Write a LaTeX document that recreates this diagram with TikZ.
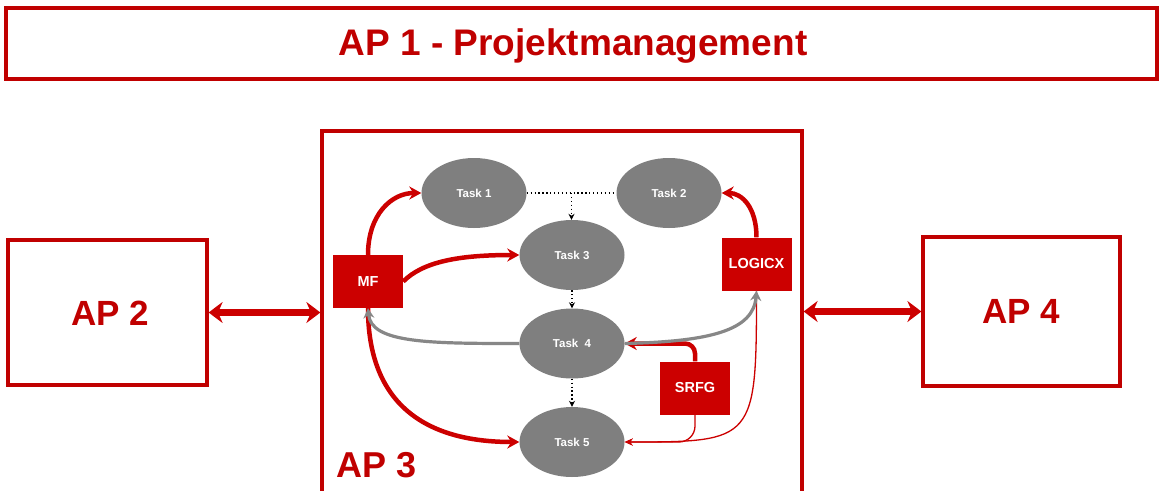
\documentclass[tikz,border=0pt]{standalone}
\usepackage{fontspec}
\setmainfont{Liberation Sans}
\usetikzlibrary{shapes.geometric,arrows.meta}
\definecolor{apred}{RGB}{192,0,0}
\definecolor{boxred}{RGB}{204,0,0}
\definecolor{taskgray}{RGB}{127,127,127}
\definecolor{linkgray}{RGB}{135,135,135}

\begin{document}
\begin{tikzpicture}[x=1pt,y=-1pt,
  frame/.style={draw=apred,line width=3.2pt,rectangle,inner sep=0pt},
  task/.style={ellipse,fill=taskgray,minimum width=105pt,minimum height=70pt,
    inner sep=0pt,text=white,font=\fontsize{11.5}{13}\selectfont\bfseries},
  tool/.style={rectangle,fill=boxred,minimum width=70pt,minimum height=53pt,
    inner sep=0pt,text=white,font=\fontsize{14.5}{17}\selectfont\bfseries},
  biglabel/.style={text=apred,inner sep=0pt,font=\fontsize{35}{40}\selectfont\bfseries},
  link/.style={draw=boxred,line width=4.5pt,-{Stealth[length=12pt,width=13pt]}},
  thinlink/.style={draw=boxred,line width=1.3pt,-{Stealth[length=8pt,width=7pt]}},
  greylink/.style={draw=linkgray,line width=3.2pt,-{Stealth[length=10pt,width=11pt]}},
  flow/.style={draw=black,line width=1.3pt,dash pattern=on 1.3pt off 2.6pt},
  bus/.style={draw=boxred,line width=7pt,
    {Stealth[length=14pt,width=21pt]}-{Stealth[length=14pt,width=21pt]}}
]
\useasboundingbox (0,0) rectangle (1159,490);
\fill[white] (0,0) rectangle (1159,490);
\clip (0,0) rectangle (1159,490);

% work packages
\node[frame,minimum width=1151pt,minimum height=71pt] (ap1) at (581.5,43.5) {};
\node[biglabel,font=\fontsize{37}{42}\selectfont\bfseries,anchor=base] (ap1t) at (573,55)
  {AP 1 - Projektmanagement};

\node[frame,minimum width=199pt,minimum height=145pt] (ap2) at (107.5,312.5) {};
\node[biglabel,anchor=base] (ap2t) at (110,325) {AP 2};

\node[frame,minimum width=480pt,minimum height=374pt] (ap3) at (562,318) {};
\node[biglabel,font=\fontsize{36}{41}\selectfont\bfseries,anchor=base west] (ap3t) at (336,477)
  {AP 3};

\node[frame,minimum width=197pt,minimum height=149pt] (ap4) at (1021.5,311.5) {};
\node[biglabel,anchor=base] (ap4t) at (1021,323) {AP 4};

% interfaces between the work packages
\draw[bus] (ap2.east) -- (ap2.east -| ap3.west);
\draw[bus] (ap4.west) -- (ap4.west -| ap3.east);

% tasks
\node[task] (t1) at (474,193) {Task 1};
\node[task] (t2) at (669,193) {Task 2};
\node[task] (t3) at (572,255) {Task 3};
\node[task] (t4) at (572,343.5) {Task\ \ 4};
\node[task] (t5) at (572,442) {Task 5};

% partners
\node[tool] (mf) at (368,281.5) {MF};
\node[tool] (logicx) at (756.5,264) {LOGICX};
\node[tool] (srfg) at (695,388) {SRFG};

% task sequence
\draw[flow] (t1.east) -- coordinate (t12) (t2.west);
\draw[flow,-{Stealth[length=6pt,width=6pt]}] (t12) -- (t12 |- t3.north);
\draw[flow,-{Stealth[length=6pt,width=6pt]}] (t3.south) -- (t4.north);
\draw[flow,-{Stealth[length=6pt,width=6pt]}] (t4.south) -- (t5.north);

% contributions of the partners
\draw[link] (mf.north) .. controls +(0,-40) and +(-30,0) .. (t1.west);
\draw[link] (mf.east) .. controls +(20,-20) and +(-60,0) .. (t3.west);
\draw[link] (logicx.north) .. controls +(0,-30) and +(20,0) .. (t2.east);
\draw[link] (mf.south) .. controls +(0,95) and +(-95,0) .. (t5.west);
\draw[link,rounded corners=10pt] (srfg.north) |- (t4.east);
\draw[thinlink,rounded corners=16pt] (srfg.south) |- (t5.east);
\draw[thinlink] (logicx.south) .. controls +(0,150) and +(130,0) .. (t5.east);

% feedback from task 4
\draw[greylink] (t4.west) .. controls +(-90,0) and +(3,35) .. (mf.south);
\draw[greylink] (t4.east) .. controls +(85,-2) and +(-3,40) .. (logicx.south);
\end{tikzpicture}
\end{document}
